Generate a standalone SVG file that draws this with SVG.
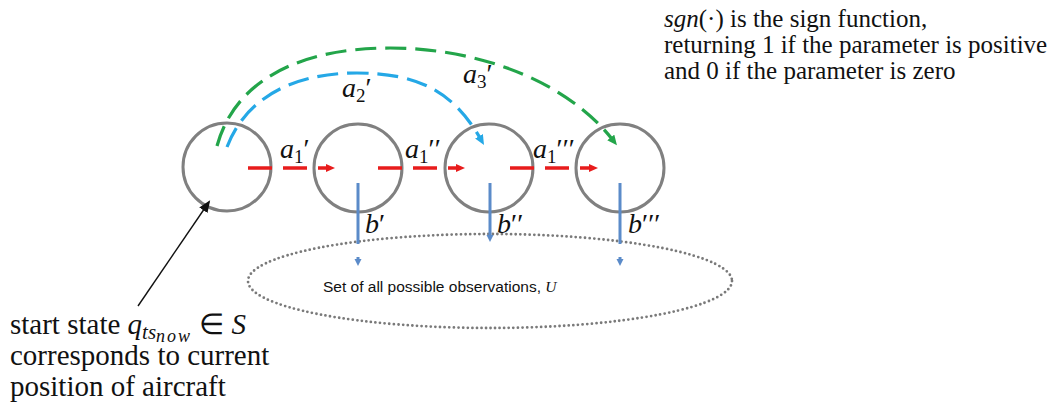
<svg xmlns="http://www.w3.org/2000/svg" width="1053" height="414" viewBox="0 0 1053 414">
<defs>
<style>
.node{fill:none;stroke:#808080;stroke-width:3}
.red{fill:none;stroke:#e81c1c;stroke-width:3.5;stroke-dasharray:24 11}
.grn{fill:none;stroke:#23a54a;stroke-width:3.2;stroke-dasharray:21 9}
.blu{fill:none;stroke:#25a8e6;stroke-width:3.2;stroke-dasharray:21 9}
.obs{fill:none;stroke:#5b8bc9;stroke-width:3}
.ser{font-family:'Liberation Serif','Times New Roman',serif;fill:#111}
.mi{font-family:'Liberation Serif','Times New Roman',serif;font-style:italic;fill:#111}
.san{font-family:'Liberation Sans',Arial,sans-serif;fill:#111}
.up{font-style:normal}
</style>
<marker id="ar" markerWidth="10" markerHeight="10" refX="0" refY="4" orient="auto" markerUnits="userSpaceOnUse"><path d="M0,0 L9,4 L0,8 Z" fill="#e81c1c"/></marker>
<marker id="ag" markerWidth="12" markerHeight="12" refX="2" refY="4.5" orient="auto" markerUnits="userSpaceOnUse"><path d="M0,0 L10,4.5 L0,9 Z" fill="#23a54a"/></marker>
<marker id="ab" markerWidth="12" markerHeight="12" refX="2" refY="4.5" orient="auto" markerUnits="userSpaceOnUse"><path d="M0,0 L10,4.5 L0,9 Z" fill="#25a8e6"/></marker>
<marker id="ao" markerWidth="10" markerHeight="10" refX="1" refY="3.5" orient="auto" markerUnits="userSpaceOnUse"><path d="M0,0 L7,3.5 L0,7 Z" fill="#5b8bc9"/></marker>
<marker id="ak" markerWidth="14" markerHeight="14" refX="10" refY="5" orient="auto" markerUnits="userSpaceOnUse"><path d="M0,0 L12,5 L0,10 Z" fill="#111"/></marker>
</defs>
<rect width="1053" height="414" fill="#fff"/>

<g id="observations">
<ellipse cx="490" cy="281" rx="242" ry="47" fill="none" stroke="#7a7a7a" stroke-width="2.8" stroke-linecap="round" stroke-dasharray="0 4.6"/>
<text x="323" y="292" class="san" font-size="15.5">Set of all possible observations, <tspan class="mi">U</tspan></text>
</g>

<g id="s0"><circle cx="227" cy="167" r="44" class="node"/></g>
<g id="s1"><circle cx="358" cy="168" r="44" class="node"/></g>
<g id="s2"><circle cx="489" cy="168" r="44" class="node"/></g>
<g id="s3"><circle cx="620" cy="168" r="44" class="node"/></g>

<g id="connectors">
<path class="red" d="M248,168 H326" marker-end="url(#ar)"/>
<path class="red" d="M378,168 H456" marker-end="url(#ar)"/>
<path class="red" d="M510,168 H589" marker-end="url(#ar)"/>
<path class="grn" d="M217,146 C235,80 300,48 390,48 C480,48 567,82 612,139" marker-end="url(#ag)"/>
<path class="blu" d="M227,147 C245,100 290,73 357,73 C420,73 454,93 480,138" marker-end="url(#ab)"/>
<path class="obs" d="M358,183 V244 M358,257 V260" marker-end="url(#ao)"/>
<path class="obs" d="M490,183 V236" marker-end="url(#ao)"/>
<path class="obs" d="M620,183 V244 M620,257 V260" marker-end="url(#ao)"/>
<path d="M138,306 L209,202" stroke="#111" stroke-width="1.4" fill="none" marker-end="url(#ak)"/>
</g>

<g id="labels" font-size="28">
<text x="280" y="158" class="mi">a<tspan class="up" font-size="19" dy="5">1</tspan><tspan class="up" dy="-5">′</tspan></text>
<text x="405" y="158" class="mi">a<tspan class="up" font-size="19" dy="5">1</tspan><tspan class="up" dy="-5">′′</tspan></text>
<text x="533" y="158" class="mi">a<tspan class="up" font-size="19" dy="5">1</tspan><tspan class="up" dy="-5">′′′</tspan></text>
<text x="342" y="97" class="mi">a<tspan class="up" font-size="19" dy="5">2</tspan><tspan class="up" dy="-5">′</tspan></text>
<text x="463" y="83" class="mi">a<tspan class="up" font-size="19" dy="5">3</tspan><tspan class="up" dy="-5">′</tspan></text>
<text x="365" y="233" class="mi">b<tspan class="up">′</tspan></text>
<text x="497" y="233" class="mi">b<tspan class="up">′′</tspan></text>
<text x="628" y="233" class="mi">b<tspan class="up">′′′</tspan></text>
</g>

<g id="note" font-size="25">
<text x="664" y="27" class="ser"><tspan class="mi">sgn</tspan>(·) is the sign function,</text>
<text x="664" y="53" class="ser">returning 1 if the parameter is positive</text>
<text x="664" y="79" class="ser">and 0 if the parameter is zero</text>
</g>

<g id="start-note" font-size="29">
<text x="10" y="334" class="ser">start state <tspan class="mi">q</tspan><tspan class="mi" font-size="21" dy="5">ts</tspan><tspan class="mi" font-size="18" dy="3" letter-spacing="2">now</tspan><tspan dy="-8"> ∈ </tspan><tspan class="mi">S</tspan></text>
<text x="10" y="365" class="ser">corresponds to current</text>
<text x="10" y="396" class="ser">position of aircraft</text>
</g>
</svg>
